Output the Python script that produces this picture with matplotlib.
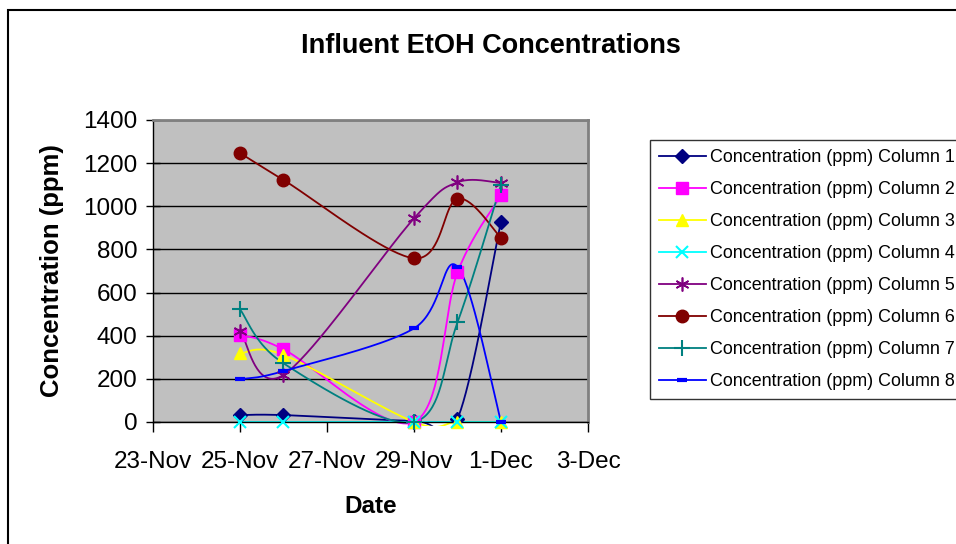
import datetime as dt
import numpy as np
import matplotlib
matplotlib.use("Agg")
import matplotlib.pyplot as plt
import matplotlib.dates as mdates
from matplotlib.lines import Line2D
from matplotlib.patches import Rectangle

plt.rcParams['font.family'] = ['Liberation Sans', 'DejaVu Sans']

# sample dates
dates = [dt.date(2008, 11, 25), dt.date(2008, 11, 26), dt.date(2008, 11, 29),
         dt.date(2008, 11, 30), dt.date(2008, 12, 1)]

# EtOH concentration (ppm) per column
col1 = [32, 32, 5, 15, 929]
col2 = [403, 337, 0, 694, 1051]
col3 = [318, 311, 0, 0, 0]
col4 = [0, 0, 0, 0, 0]
col5 = [423, 218, 944, 1111, 1108]
col6 = [1247, 1122, 759, 1035, 854]
col7 = [522, 272, 0, 462, 1100]
col8 = [198, 236, 434, 720, 0]

labels = ["Concentration (ppm) Column %d" % i for i in range(1, 9)]
series = [col1, col2, col3, col4, col5, col6, col7, col8]
colors = ['#000080', '#FF00FF', '#FFFF00', '#00FFFF', '#800080', '#800000', '#008080', '#0000FF']
markers = ['D', 's', '^', 'x', (6, 2, 0), 'o', '+', '_']
msizes = [7, 8, 9, 8, 10, 9, 11, 7]
mews = [1, 1, 1, 1.5, 1.2, 1, 1.5, 3]

W, H = 956, 544
fig = plt.figure(figsize=(W / 100, H / 100), dpi=100)
ax = fig.add_axes([153 / W, (H - 422) / H, 435 / W, 302 / H])
ax.set_facecolor('#C0C0C0')

x0 = mdates.date2num(dt.date(2008, 11, 23))
x1 = mdates.date2num(dt.date(2008, 12, 3))
ax.set_xlim(x0, x1)
ax.set_ylim(0, 1400)
ax.set_yticks(np.arange(0, 1401, 200))
ax.set_xticks(np.arange(x0, x1 + 0.1, 2))
ax.xaxis.set_major_formatter(plt.FuncFormatter(
    lambda v, p: "%d-%s" % (mdates.num2date(v).day, mdates.num2date(v).strftime('%b'))))
ax.grid(axis='y', color='black', linewidth=1)
ax.set_axisbelow(True)
ax.tick_params(axis='both', labelsize=17.5, length=7, width=1, color='black')
ax.tick_params(axis='y', direction='inout', length=10, pad=6)
ax.tick_params(axis='x', direction='out', pad=14)
for s in ['top', 'right']:
    ax.spines[s].set_color('#808080')
    ax.spines[s].set_linewidth(2)
for s in ['left', 'bottom']:
    ax.spines[s].set_color('black')
    ax.spines[s].set_linewidth(1)


def smooth(xd, yd, n=40):
    # excel-like smoothed line: catmull-rom bezier in display space
    pts = ax.transData.transform(np.column_stack([xd, yd]))
    p = np.vstack([pts[0], pts, pts[-1]])
    out = []
    for i in range(1, len(p) - 2):
        a, b = p[i], p[i + 1]
        c1 = a + (p[i + 1] - p[i - 1]) / 6
        c2 = b - (p[i + 2] - p[i]) / 6
        t = np.linspace(0, 1, n)[:, None]
        seg = (1 - t) ** 3 * a + 3 * (1 - t) ** 2 * t * c1 + 3 * (1 - t) * t ** 2 * c2 + t ** 3 * b
        out.append(seg if i == 1 else seg[1:])
    out = np.vstack(out)
    return ax.transData.inverted().transform(out)


# let the curves overshoot only a few pixels under the x axis
clip = Rectangle((0, -0.012), 1, 1.012, transform=ax.transAxes, visible=False)
ax.add_patch(clip)

xd = mdates.date2num(dates)
handles = []
for vals, c, m, ms, mw, lab in zip(series, colors, markers, msizes, mews, labels):
    sm = smooth(xd, vals)
    ln, = ax.plot(sm[:, 0], sm[:, 1], color=c, linewidth=1.3)
    ln.set_clip_path(clip)
    ax.plot(xd, vals, linestyle='none', marker=m, markersize=ms, color=c,
            markeredgewidth=mw, clip_on=False, zorder=3)
    handles.append(Line2D([], [], color=c, linewidth=1.3, marker=m, markersize=ms,
                          markeredgewidth=mw))

ax.set_xlabel('Date', fontsize=17.5, fontweight='bold', labelpad=16)
ax.set_ylabel('Concentration (ppm)', fontsize=18.5, fontweight='bold', labelpad=14)
fig.text(491 / W, 1 - 46 / H, 'Influent EtOH Concentrations', fontsize=19.5,
         fontweight='bold', ha='center', va='center')

leg = fig.legend(handles, labels, loc='upper left', bbox_to_anchor=(650 / W, 1 - 140 / H),
                 fontsize=12.9, numpoints=1, handlelength=2.6, handletextpad=0.25,
                 labelspacing=0.84, borderpad=0.5, fancybox=False, frameon=True,
                 borderaxespad=0)
leg.get_frame().set_edgecolor('black')
leg.get_frame().set_linewidth(1)

# outer chart border
fig.patches.append(Rectangle((8 / W, -0.1), 1.2, (H - 10) / H + 0.1, transform=fig.transFigure,
                             fill=False, edgecolor='black', linewidth=1.5))

fig.savefig('out.png', dpi=100)
